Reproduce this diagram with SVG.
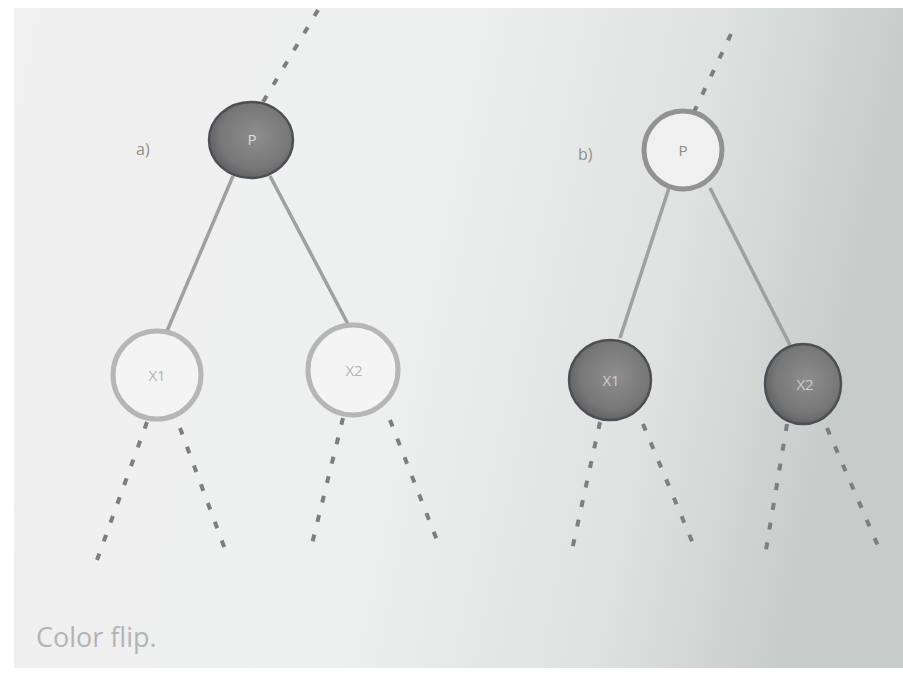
<svg xmlns="http://www.w3.org/2000/svg" width="903" height="676" viewBox="0 0 903 676">
  <defs>
    <linearGradient id="paper" x1="0" y1="0" x2="1" y2="0.15">
      <stop offset="0" stop-color="#f0f0f0"/>
      <stop offset="0.5" stop-color="#eeefef"/>
      <stop offset="0.78" stop-color="#dfe2e1"/>
      <stop offset="1" stop-color="#c6ccca"/>
    </linearGradient>
    <radialGradient id="dark" cx="0.55" cy="0.45" r="0.6">
      <stop offset="0" stop-color="#8e8e8e"/>
      <stop offset="0.7" stop-color="#777777"/>
      <stop offset="1" stop-color="#5c5c60"/>
    </radialGradient>
    <style>
      .edge { stroke: #a0a0a0; stroke-width: 3.5; fill: none; }
      .dash { stroke: #7e7e7e; stroke-width: 4; fill: none; stroke-dasharray: 7 13; }
      .red { fill: url(#dark); stroke: #4e4e55; stroke-width: 2.5; }
      .blk { fill: #f4f4f4; stroke: #b6b6b6; stroke-width: 5; }
      .blk2 { fill: #f0f0f0; stroke: #929292; stroke-width: 5; }
      .lbl { font-family: "Open Sans", "DejaVu Sans", sans-serif; font-size: 15px; text-anchor: middle; }
      .tag { font-family: "Open Sans", "DejaVu Sans", sans-serif; font-size: 16px; fill: #8e8e8e; }
    </style>
  </defs>

  <rect x="0" y="0" width="903" height="676" fill="#ffffff"/>
  <rect x="14" y="8" width="889" height="660" fill="url(#paper)"/>

  <g id="connectors">
    <!-- a) -->
    <line class="dash" x1="318" y1="10" x2="263" y2="102"/>
    <line class="edge" x1="233" y1="176" x2="167" y2="331"/>
    <line class="edge" x1="270" y1="176" x2="349" y2="326"/>
    <line class="dash" x1="147" y1="422" x2="97" y2="560"/>
    <line class="dash" x1="180" y1="428" x2="226" y2="552"/>
    <line class="dash" x1="343" y1="418" x2="310" y2="552"/>
    <line class="dash" x1="390" y1="420" x2="440" y2="548"/>
    <!-- b) -->
    <line class="dash" x1="731" y1="34" x2="693" y2="114"/>
    <line class="edge" x1="669" y1="188" x2="620" y2="338"/>
    <line class="edge" x1="710" y1="188" x2="790" y2="345"/>
    <line class="dash" x1="600" y1="422" x2="572" y2="550"/>
    <line class="dash" x1="643" y1="424" x2="694" y2="546"/>
    <line class="dash" x1="787" y1="424" x2="766" y2="550"/>
    <line class="dash" x1="827" y1="428" x2="878" y2="546"/>
  </g>

  <text class="tag" x="136" y="155">a)</text>
  <text class="tag" x="578" y="160">b)</text>

  <g id="a-P">
    <ellipse class="red" cx="251" cy="140" rx="42" ry="38"/>
    <text class="lbl" x="252" y="145" fill="#dcdcdc">P</text>
  </g>
  <g id="a-X1">
    <circle class="blk" cx="157" cy="375" r="44"/>
    <text class="lbl" x="157" y="381" fill="#b4b4b4">X1</text>
  </g>
  <g id="a-X2">
    <circle class="blk" cx="353" cy="370" r="45"/>
    <text class="lbl" x="354" y="376" fill="#b4b4b4">X2</text>
  </g>

  <g id="b-P">
    <circle class="blk2" cx="683" cy="150" r="39"/>
    <text class="lbl" x="683" y="156" fill="#8a8a8a">P</text>
  </g>
  <g id="b-X1">
    <ellipse class="red" cx="610" cy="380" rx="41" ry="40"/>
    <text class="lbl" x="611" y="386" fill="#cccccc">X1</text>
  </g>
  <g id="b-X2">
    <ellipse class="red" cx="803" cy="384" rx="38" ry="40"/>
    <text class="lbl" x="805" y="390" fill="#cccccc">X2</text>
  </g>

  <text x="36" y="647" font-family="'Open Sans', 'DejaVu Sans', sans-serif" font-size="27" fill="#b4b4b4">Color flip.</text>
</svg>
